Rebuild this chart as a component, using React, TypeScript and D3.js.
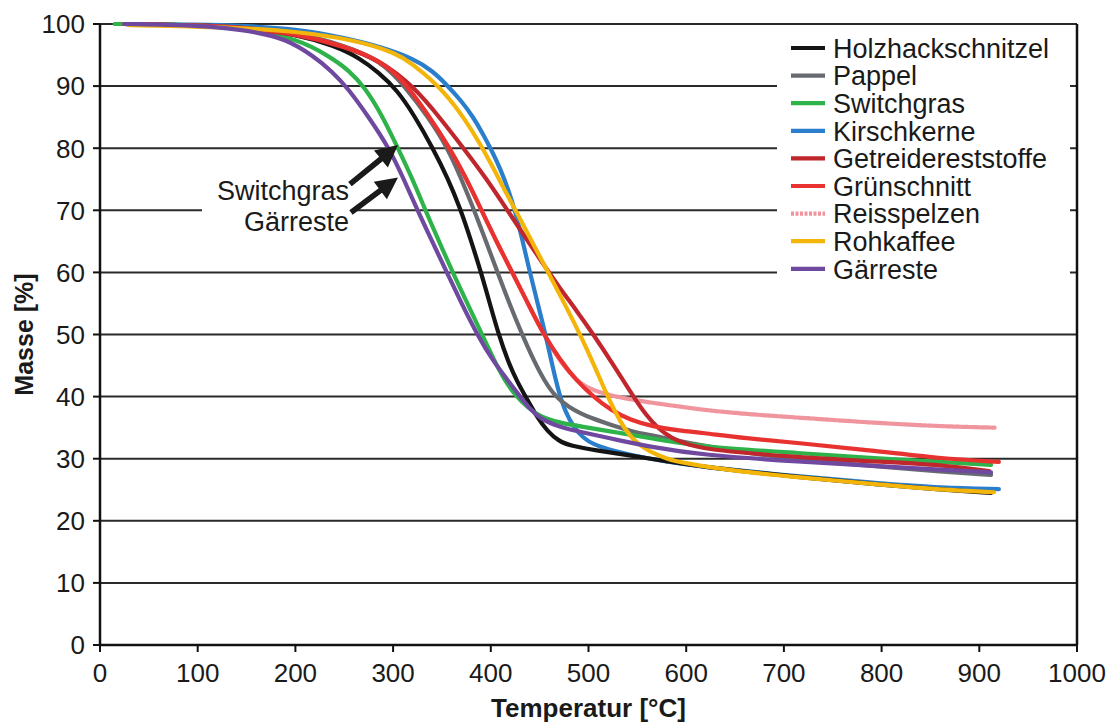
import React from "react";
import * as d3 from "d3";

const width = 1115;
const height = 724;
const margin = { top: 24, right: 38, bottom: 79, left: 100 };

const xTicks = [0, 100, 200, 300, 400, 500, 600, 700, 800, 900, 1000];
const yTicks = [0, 10, 20, 30, 40, 50, 60, 70, 80, 90, 100];

// [Temperatur °C, Masse %]
const holzhackschnitzel = [
  [25, 100], [100, 99.8], [150, 99.4], [200, 98.4], [240, 96.5], [266, 94.5], [285, 92.2], [304, 89.4],
  [322, 85.2], [340, 80.2], [356, 75.2], [369, 70.2], [380, 65], [390, 60], [399, 55], [408, 50],
  [418, 45.5], [427, 42.4], [437, 39.6], [447, 36.8], [458, 34.4], [470, 32.8], [481, 32.1], [509, 31.3],
  [543, 30.5], [580, 29.6], [615, 28.7], [717, 27], [800, 25.8], [861, 25], [912, 24.5],
];
const pappel = [
  [25, 100], [100, 99.8], [150, 99.4], [200, 98.6], [250, 96.6], [287, 94.1], [312, 90], [336, 85],
  [356, 80], [370, 75], [383, 70], [395, 65], [407, 60], [419, 55], [432, 50], [444, 45.8], [455, 42.5],
  [466, 40], [480, 38.3], [492, 37.3], [502, 36.6], [520, 35.6], [546, 34.3], [564, 33.8], [600, 32.6],
  [650, 31.2], [717, 29.8], [800, 28.7], [861, 27.9], [912, 27.4],
];
const switchgras = [
  [15, 100], [50, 100], [100, 99.8], [150, 99.2], [201, 97.7], [236, 94.7], [255, 92.5], [271, 89.8],
  [288, 85.5], [304, 80.3], [320, 75], [333, 70], [347, 65], [361, 60], [376, 55], [391, 50], [403, 46],
  [413, 42.9], [425, 40.2], [438, 38.2], [451, 36.7], [470, 35.8], [492, 35.2], [530, 34.2], [564, 33.3],
  [615, 31.9], [717, 30.9], [800, 30], [861, 29.5], [912, 29],
];
const kirschkerne = [
  [25, 100], [100, 99.9], [150, 99.7], [200, 99.2], [250, 97.8], [290, 96.2], [321, 94.4], [340, 92.5],
  [355, 90.2], [370, 87.6], [382, 85], [392, 82.3], [401, 79.6], [410, 76.6], [418, 73.3], [425, 69.8],
  [432, 65.5], [440, 60], [448, 55], [456, 50], [463, 45], [469, 41], [476, 37.6], [485, 35],
  [495, 33.3], [505, 32.3], [520, 31.5], [543, 30.6], [580, 29.5], [615, 28.7], [717, 27.1], [800, 26],
  [861, 25.3], [920, 25.1],
];
const getreidereststoffe = [
  [25, 100], [100, 99.7], [150, 99.3], [200, 98.4], [250, 96.4], [287, 94.1], [321, 90], [350, 84.5],
  [372, 80], [396, 75], [417, 70], [436, 65.5], [453, 61.5], [470, 57.6], [488, 53.8], [505, 50],
  [526, 45], [546, 40], [559, 37], [571, 34.9], [585, 33.3], [600, 32.3], [630, 31.3], [717, 30.2],
  [800, 29.5], [861, 29], [910, 28],
];
const gruenschnitt = [
  [25, 100], [100, 99.8], [150, 99.4], [200, 98.5], [250, 96.5], [287, 94.1], [310, 91], [335, 85.6],
  [358, 80], [374, 75.4], [389, 70.5], [405, 65.2], [422, 60], [438, 55], [454, 50], [471, 45.9],
  [488, 42.5], [505, 40], [523, 37.8], [543, 36.2], [565, 35.2], [594, 34.5], [615, 34.2], [660, 33.3],
  [717, 32.5], [786, 31.4], [861, 30], [920, 29.5],
];
const reisspelzen = [
  [25, 100], [100, 99.8], [150, 99.4], [200, 98.5], [250, 96.5], [287, 94.1], [310, 91], [335, 85.6],
  [358, 80], [374, 75.4], [389, 70.5], [405, 65.2], [422, 60], [438, 55], [454, 50], [471, 45.6],
  [489, 42.3], [505, 41], [526, 40], [564, 39], [594, 38.4], [615, 37.9], [660, 37.2], [717, 36.6],
  [790, 35.8], [861, 35.2], [917, 35],
];
const rohkaffee = [
  [30, 99.8], [100, 99.6], [150, 99.3], [200, 98.8], [260, 97.5], [304, 95.3], [320, 93.5], [338, 91.2],
  [355, 88.5], [372, 85], [388, 81], [402, 77], [415, 73], [427, 69.5], [440, 65.6], [451, 62.3],
  [464, 58.4], [478, 54.2], [492, 49.8], [506, 45], [519, 40.2], [532, 36], [546, 32.8], [564, 31],
  [580, 30], [597, 29.3], [650, 28], [717, 27], [800, 25.8], [861, 25], [915, 24.6],
];
const gaerreste = [
  [25, 100], [100, 99.8], [130, 99.3], [160, 98.7], [190, 97.6], [218, 94.9], [238, 92.3], [254, 89.6],
  [275, 85], [296, 80], [311, 75], [325, 70], [340, 65], [355, 60], [370, 55], [386, 50], [402, 45.8],
  [417, 42.7], [430, 40], [440, 38], [451, 36.4], [470, 35.1], [492, 34.3], [530, 33], [564, 31.9],
  [615, 30.6], [717, 29.5], [800, 28.8], [861, 28.2], [912, 27.8],
];

const legendNames = [
  "Holzhackschnitzel", "Pappel", "Switchgras", "Kirschkerne", "Getreidereststoffe",
  "Grünschnitt", "Reisspelzen", "Rohkaffee", "Gärreste",
];
const legendColors = [
  "#141414", "#676b70", "#2eb34b", "#2a7ecb", "#c0272d", "#e8322f", "#f0949e", "#f4b50a", "#6f49a0",
];
const seriesData = [
  holzhackschnitzel, pappel, switchgras, kirschkerne, getreidereststoffe,
  gruenschnitt, reisspelzen, rohkaffee, gaerreste,
];
// which series go underneath
const drawOrder = [6, 3, 0, 1, 2, 4, 5, 7, 8];

const font = "'Liberation Sans', Arial, sans-serif";

function arrow(x1, y1, x2, y2) {
  const dx = x2 - x1, dy = y2 - y1;
  const len = Math.sqrt(dx * dx + dy * dy);
  const ux = dx / len, uy = dy / len;
  const nx = -uy, ny = ux;
  const head = 22, hw = 11, sw = 2.8;
  const bx = x2 - ux * head, by = y2 - uy * head;
  const pts = [
    [x1 + nx * sw, y1 + ny * sw],
    [bx + nx * sw, by + ny * sw],
    [bx + nx * hw, by + ny * hw],
    [x2, y2],
    [bx - nx * hw, by - ny * hw],
    [bx - nx * sw, by - ny * sw],
    [x1 - nx * sw, y1 - ny * sw],
  ];
  return pts.map((p) => p.join(",")).join(" ");
}

export default function App() {
  const x = d3.scaleLinear().domain([0, 1000]).range([margin.left, width - margin.right]);
  const y = d3.scaleLinear().domain([0, 100]).range([height - margin.bottom, margin.top]);

  const line = d3
    .line()
    .x((d) => x(d[0]))
    .y((d) => y(d[1]))
    .curve(d3.curveBasis);

  const x0 = x(0), x1 = x(1000), yb = y(0), yt = y(100);

  // annotation arrows, anchored on the curves
  const tip1 = [x(305), y(80.5)];
  const tip2 = [x(305), y(75.3)];

  return (
    <svg
      width={width}
      height={height}
      style={{ position: "absolute", left: 0, top: 0, background: "#fff" }}
      fontFamily={font}
    >
      {/* gridlines */}
      {yTicks.map((t) => (
        <line key={"g" + t} x1={x0} x2={x1} y1={y(t)} y2={y(t)} stroke="#2a2a2a" strokeWidth={2} />
      ))}

      {/* curves */}
      {drawOrder.map((i) => (
        <path
          key={legendNames[i]}
          d={line(seriesData[i])}
          fill="none"
          stroke={legendColors[i]}
          strokeWidth={4.2}
          strokeLinecap="round"
          strokeLinejoin="round"
          strokeDasharray={i === 6 ? "3 1.5" : undefined}
        />
      ))}

      {/* annotation */}
      <rect x={202} y={176} width={150} height={60} fill="#fff" />
      <text x={349} y={200} fontSize={27} textAnchor="end" fill="#1a1a1a">Switchgras</text>
      <text x={349} y={231} fontSize={27} textAnchor="end" fill="#1a1a1a">Gärreste</text>
      <polygon points={arrow(tip1[0] - 48, tip1[1] + 39, tip1[0], tip1[1])} fill="#1a1a1a" />
      <polygon points={arrow(tip2[0] - 47, tip2[1] + 35, tip2[0], tip2[1])} fill="#1a1a1a" />

      {/* axes frame */}
      <line x1={x0} x2={x0} y1={yt} y2={yb} stroke="#111" strokeWidth={2.5} />
      <line x1={x1} x2={x1} y1={yt} y2={yb} stroke="#111" strokeWidth={2.5} />
      <line x1={x0} x2={x1} y1={yb} y2={yb} stroke="#111" strokeWidth={2.5} />

      {yTicks.map((t) => (
        <g key={"y" + t}>
          <line x1={x0 - 7} x2={x0} y1={y(t)} y2={y(t)} stroke="#111" strokeWidth={2} />
          <text x={x0 - 15} y={y(t)} dy="0.36em" fontSize={26} textAnchor="end" fill="#1a1a1a">
            {t}
          </text>
        </g>
      ))}
      {xTicks.map((t) => (
        <g key={"x" + t}>
          <line x1={x(t)} x2={x(t)} y1={yb} y2={yb + 7} stroke="#111" strokeWidth={2} />
          <text x={x(t)} y={yb + 37} fontSize={26} textAnchor="middle" fill="#1a1a1a">
            {t}
          </text>
        </g>
      ))}

      <text x={(x0 + x1) / 2} y={717} fontSize={26} fontWeight="bold" textAnchor="middle" fill="#1a1a1a">
        Temperatur [°C]
      </text>
      <text
        transform={`translate(33,${(yt + yb) / 2}) rotate(-90)`}
        fontSize={25}
        fontWeight="bold"
        textAnchor="middle"
        fill="#1a1a1a"
      >
        Masse [%]
      </text>

      {/* legend */}
      <rect x={777} y={30} width={293} height={262} fill="#fff" />
      {legendNames.map((name, i) => {
        const ly = 48 + i * 27.6;
        return (
          <g key={"l" + name}>
            <line
              x1={791}
              x2={825}
              y1={ly}
              y2={ly}
              stroke={legendColors[i]}
              strokeWidth={4.2}
              strokeDasharray={i === 6 ? "3 1.5" : undefined}
            />
            <text x={833} y={ly} dy="0.36em" fontSize={27} fill="#1a1a1a">
              {name}
            </text>
          </g>
        );
      })}
    </svg>
  );
}
